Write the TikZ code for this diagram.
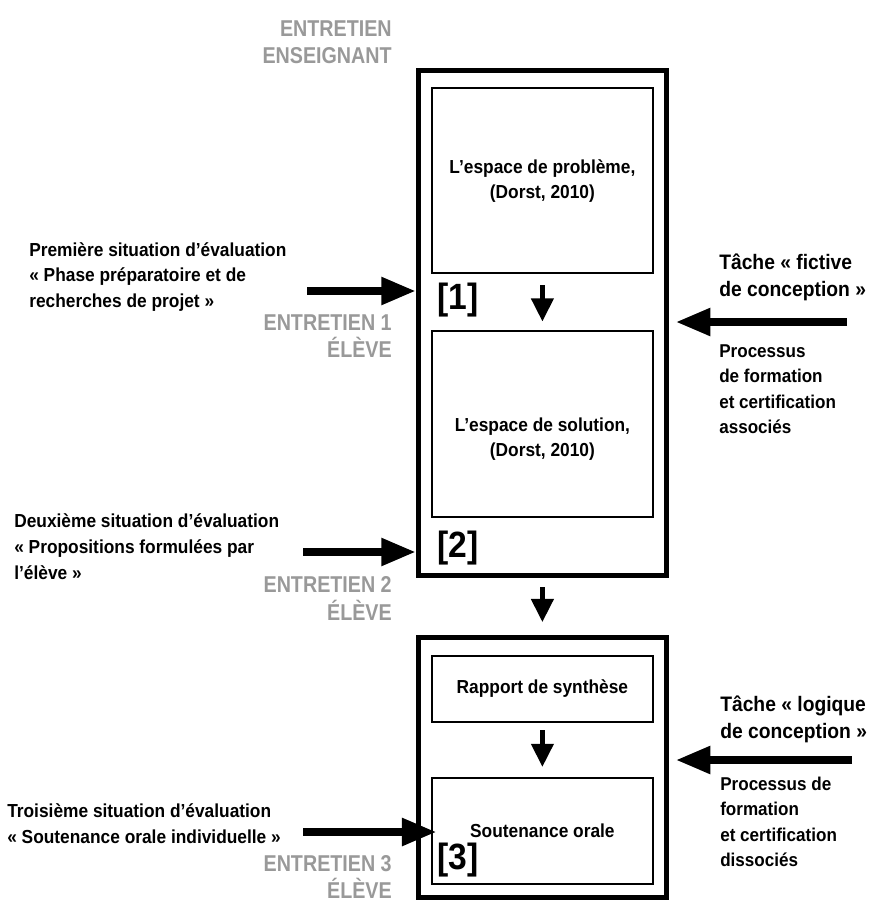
\documentclass[tikz,border=0pt]{standalone}
\usepackage{fontspec}
\setmainfont{Liberation Sans}[FakeStretch=0.92]
\newfontfamily\greyfont{Liberation Sans}[FakeStretch=0.86]
\usepackage{xcolor}
\usepackage{tikz}
\usetikzlibrary{arrows.meta,calc,positioning}
\definecolor{entretien}{gray}{0.6}

\begin{document}
\begin{tikzpicture}[
  outer/.style={draw,line width=3.5pt,minimum width=6.19cm},
  inbox/.style={draw,line width=1.5pt,minimum width=5.525cm,align=center,font=\fontsize{13.4}{17.7}\selectfont\bfseries},
  sit/.style={anchor=west,align=left,inner sep=0pt,font=\fontsize{13.4}{18.4}\selectfont\bfseries},
  tache/.style={anchor=west,align=left,inner sep=0pt,font=\fontsize{14.9}{19}\selectfont\bfseries},
  proc/.style={anchor=west,align=left,inner sep=0pt,font=\fontsize{13.2}{18}\selectfont\bfseries},
  entr/.style={anchor=east,align=right,inner sep=0pt,text=entretien,font=\greyfont\fontsize{16.3}{19.6}\selectfont\bfseries},
  num/.style={anchor=west,inner sep=0pt,font=\fontsize{26}{26}\selectfont\bfseries},
  bigarrow/.style={line width=6pt,-{Triangle[length=24.8pt,width=18.4pt]}},
  smallarrow/.style={line width=3.5pt,-{Triangle[length=16.5pt,width=15.5pt]}}
]
\useasboundingbox (0,0) rectangle (21.75,-22.55);

% boxes
\node[outer,minimum height=12.62cm] (outer1) at (13.56,-8.08) {};
\node[inbox,minimum height=4.62cm] (prob) at (13.56,-4.518) {L’espace de problème,\\(Dorst, 2010)};
\node[inbox,minimum height=4.65cm] (sol) at (13.56,-10.59) {};
\node[align=center,font=\fontsize{13.4}{17.7}\selectfont\bfseries] (sollbl) at (13.56,-10.975) {L’espace de solution,\\(Dorst, 2010)};
\node[outer,minimum height=6.5cm] (outer2) at (13.56,-19.19) {};
\node[inbox,minimum height=1.65cm] (rapport) at (13.56,-17.225) {Rapport de synthèse};
\node[inbox,minimum height=2.65cm] (sout) at (13.56,-20.775) {Soutenance orale};

\node[num] (num1) at (10.925,-7.51) {[1]};
\node[num] (num2) at (10.925,-13.69) {[2]};
\node[num] (num3) at (10.925,-21.5) {[3]};

% texts on the left
\node[entr] (ens) at (9.8,-1.06) {ENTRETIEN\\ENSEIGNANT};
\node[sit] (sit1) at (0.725,-6.925) {Première situation d’évaluation\\« Phase préparatoire et de\\recherches de projet »};
\node[entr] (entr1) at (9.8,-8.4) {ENTRETIEN 1\\ÉLÈVE};
\node[sit] (sit2) at (0.35,-13.675) {Deuxième situation d’évaluation\\« Propositions formulées par\\l’élève »};
\node[entr] (entr2) at (9.8,-14.96) {ENTRETIEN 2\\ÉLÈVE};
\node[sit] (sit3) at (0.175,-20.59) {Troisième situation d’évaluation\\« Soutenance orale individuelle »};
\node[entr] (entr3) at (9.8,-21.93) {ENTRETIEN 3\\ÉLÈVE};

% texts on the right
\node[tache] (tache1) at (17.975,-6.94) {Tâche « fictive\\de conception »};
\node[proc] (proc1) at (17.975,-9.73) {Processus\\de formation\\et certification\\associés};
\node[tache] (tache2) at (18.0,-17.98) {Tâche « logique\\de conception »};
\node[proc] (proc2) at (18.0,-20.55) {Processus de\\formation\\et certification\\dissociés};

% arrows
\coordinate (in1) at (7.675,-7.275);
\coordinate (in2) at (7.575,-13.8);
\coordinate (in3) at (7.575,-20.8);
\coordinate (ex1) at (21.175,-8.05);
\coordinate (ex2) at (21.3,-19.0);

\draw[bigarrow] (in1) -- (in1 -| outer1.west);
\draw[bigarrow] (in2) -- (in2 -| outer1.west);
\draw[bigarrow] (in3) -- ([xshift=0.15cm]in3 -| sout.west);
\draw[bigarrow,shorten >=0.17cm] (ex1) -- (ex1 -| outer1.east);
\draw[bigarrow,shorten >=0.17cm] (ex2) -- (ex2 -| outer2.east);

\draw[smallarrow,shorten <=0.275cm,shorten >=0.2cm] (prob) -- (sol);
\draw[smallarrow,shorten <=0.225cm,shorten >=0.325cm] (outer1) -- (outer2);
\draw[smallarrow,shorten <=0.175cm,shorten >=0.25cm] (rapport) -- (sout);
\end{tikzpicture}
\end{document}
